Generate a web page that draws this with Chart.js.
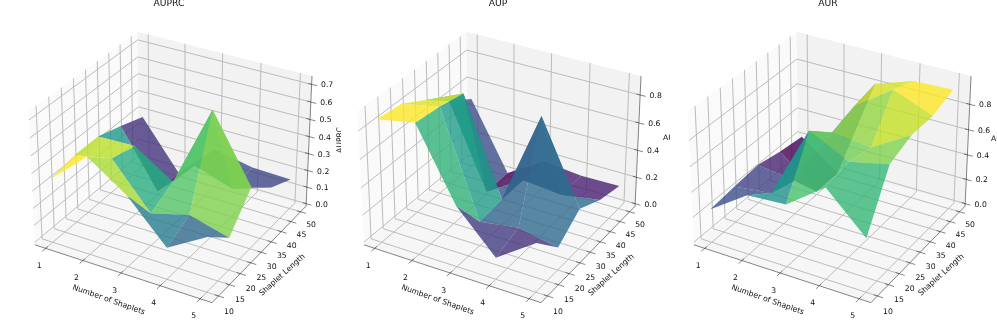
<!DOCTYPE html>
<html>
<head>
<meta charset="utf-8">
<title>Shapelet surfaces</title>
<script src="https://cdn.jsdelivr.net/npm/chart.js@4/dist/chart.umd.min.js"></script>
<style>
  html, body { margin: 0; padding: 0; background: #fff; }
  canvas { position: absolute; top: 0; }
</style>
</head>
<body>
<canvas id="c0" width="341" height="332" style="left:0"></canvas>
<canvas id="c1" width="329" height="332" style="left:341px"></canvas>
<canvas id="c2" width="327" height="332" style="left:670px"></canvas>
<script>
// axes
var numShapelets = [1, 2, 3, 4, 5];
var shapeletLengths = [10, 20, 30, 40, 50];
var lengthTicks = [10, 15, 20, 25, 30, 35, 40, 45, 50];

// one row per shapelet length, one column per number of shapelets
var auprcValues = [
  [0.354, 0.546, 0.395, 0.168, 0.300],
  [0.381, 0.425, 0.176, 0.234, 0.172],
  [0.381, 0.388, 0.242, 0.716, 0.344],
  [0.337, 0.005, 0.227, 0.154, 0.227],
  [0.285, 0.005, 0.212, 0.168, 0.161]
];
var aupValues = [
  [0.864, 0.915, 0.421, 0.137, 0.333],
  [0.842, 0.897, 0.156, 0.201, 0.146],
  [0.741, 0.860, 0.174, 0.851, 0.275],
  [0.604, 0.005, 0.174, 0.146, 0.192],
  [0.494, 0.005, 0.174, 0.146, 0.151]
];
var aurValues = [
  [0.245, 0.449, 0.469, 0.689, 0.399],
  [0.269, 0.309, 0.878, 0.729, 0.798],
  [0.289, 0.250, 0.719, 0.689, 0.868],
  [0.250, 0.005, 0.778, 0.990, 0.868],
  [0.225, 0.005, 0.820, 0.918, 0.930]
];
var auprcTicks = [0, 0.1, 0.2, 0.3, 0.4, 0.5, 0.6, 0.7];
var aupTicks = [0, 0.2, 0.4, 0.6, 0.8];
var aurTicks = [0, 0.2, 0.4, 0.6, 0.8];

var panels = [
  {id: 'c0', title: 'AUPRC', z: auprcValues, zTicks: auprcTicks, zMax: 0.732, left: 0, offset: 0,
   zLabel: {x: 339.8, y: 140, rot: -Math.PI / 2}},
  {id: 'c1', title: 'AUP', z: aupValues, zTicks: aupTicks, zMax: 0.915, left: 341, offset: 329,
   zLabel: {x: 341.7, y: 138.5, rot: 0}},
  {id: 'c2', title: 'AUR', z: aurValues, zTicks: aurTicks, zMax: 0.998, left: 670, offset: 659,
   zLabel: {x: 340, y: 139, rot: 0}}
];

// same camera as a default 3d axes: elev 30, azim -60
var camU = [0.866, 0.5, 0];
var camV = [-0.25, 0.433, 0.866];
var camN = [0.433, -0.75, 0.5];
var camDist = 10;
var boxXY = 1.1428, boxZ = 0.857;
var viewScale = 1704, viewCx = 173, viewCy = 160.7;
var xLim = [0.8, 5.2], yLim = [8, 52];
var pad = 1 / 48;

var viridis = [[68,1,84],[72,36,117],[65,68,135],[53,95,141],[42,120,142],[33,145,140],
               [34,168,132],[68,191,112],[122,209,81],[189,223,38],[253,231,37]];

function viridisColor(t) {
  var f = Math.min(Math.max(t, 0), 1) * (viridis.length - 1);
  var i = Math.min(Math.floor(f), viridis.length - 2);
  var a = viridis[i], b = viridis[i + 1], k = f - i;
  return 'rgba(' + Math.round(a[0] + (b[0] - a[0]) * k) + ',' + Math.round(a[1] + (b[1] - a[1]) * k) + ',' +
    Math.round(a[2] + (b[2] - a[2]) * k) + ',0.8)';
}

function project(x, y, z, zMax) {
  var px = ((x - xLim[0]) / (xLim[1] - xLim[0]) - 0.5) * boxXY;
  var py = ((y - yLim[0]) / (yLim[1] - yLim[0]) - 0.5) * boxXY;
  var pz = (z / zMax - 0.5) * boxZ;
  var d = camDist - (camN[0] * px + camN[1] * py + camN[2] * pz);
  return {
    x: (camU[0] * px + camU[1] * py) / d,
    y: (camV[0] * px + camV[1] * py + camV[2] * pz) / d,
    d: d
  };
}

function lineSet(pts, color, width) {
  return {data: pts, showLine: true, pointRadius: 0, borderColor: color, borderWidth: width, fill: false};
}

function polySet(pts, color) {
  return {data: pts, showLine: true, pointRadius: 0, borderWidth: 0, borderColor: 'rgba(0,0,0,0)',
          backgroundColor: color, fill: 'shape'};
}

function buildDatasets(panel) {
  var zm = panel.zMax, list = [];
  var P = function (x, y, z) { return project(x, y, z, zm); };
  var dx = (xLim[1] - xLim[0]) * pad, dy = (yLim[1] - yLim[0]) * pad, dz = zm * pad;
  var x0 = xLim[0] - dx, x1 = xLim[1] + dx, y0 = yLim[0] - dy, y1 = yLim[1] + dy, z0 = -dz, z1 = zm + dz;

  // panes
  list.push(polySet([P(x0, y0, z0), P(x0, y1, z0), P(x0, y1, z1), P(x0, y0, z1)], '#fafafa'));
  list.push(polySet([P(x0, y1, z0), P(x1, y1, z0), P(x1, y1, z1), P(x0, y1, z1)], '#f2f2f2'));
  list.push(polySet([P(x0, y0, z0), P(x1, y0, z0), P(x1, y1, z0), P(x0, y1, z0)], '#f6f6f6'));

  // grid
  var gridColor = '#bcbcbc', gridWidth = 1;
  numShapelets.forEach(function (x) {
    list.push(lineSet([P(x, y0, z0), P(x, y1, z0), P(x, y1, z1)], gridColor, gridWidth));
  });
  lengthTicks.forEach(function (y) {
    list.push(lineSet([P(x1, y, z0), P(x0, y, z0), P(x0, y, z1)], gridColor, gridWidth));
  });
  panel.zTicks.forEach(function (z) {
    list.push(lineSet([P(x0, y0, z), P(x0, y1, z), P(x1, y1, z)], gridColor, gridWidth));
  });

  // axis lines and tick marks
  var axisColor = '#333', axisWidth = 0.6;
  list.push(lineSet([P(x0, y0, z0), P(x1, y0, z0)], axisColor, axisWidth));
  list.push(lineSet([P(x1, y0, z0), P(x1, y1, z0)], axisColor, axisWidth));
  list.push(lineSet([P(x1, y1, z0), P(x1, y1, z1)], axisColor, axisWidth));
  var outY = (y1 - y0) * 0.03, inY = (y1 - y0) * 0.02, outX = (x1 - x0) * 0.03, inX = (x1 - x0) * 0.02;
  numShapelets.forEach(function (x) {
    list.push(lineSet([P(x, y0 - outY, z0), P(x, y0 + inY, z0)], axisColor, axisWidth));
  });
  lengthTicks.forEach(function (y) {
    list.push(lineSet([P(x1 + outX, y, z0), P(x1 - inX, y, z0)], axisColor, axisWidth));
  });
  panel.zTicks.forEach(function (z) {
    list.push(lineSet([P(x1 + outX, y1, z), P(x1 - inX, y1, z)], axisColor, axisWidth));
  });

  // surface faces, coloured by mean height and sorted far to near
  var faces = [], lo = Infinity, hi = -Infinity;
  for (var j = 0; j < shapeletLengths.length - 1; j++) {
    for (var i = 0; i < numShapelets.length - 1; i++) {
      var zs = [panel.z[j][i], panel.z[j][i + 1], panel.z[j + 1][i + 1], panel.z[j + 1][i]];
      var pts = [
        P(numShapelets[i], shapeletLengths[j], zs[0]),
        P(numShapelets[i + 1], shapeletLengths[j], zs[1]),
        P(numShapelets[i + 1], shapeletLengths[j + 1], zs[2]),
        P(numShapelets[i], shapeletLengths[j + 1], zs[3])
      ];
      var avg = (zs[0] + zs[1] + zs[2] + zs[3]) / 4;
      var depth = (pts[0].d + pts[1].d + pts[2].d + pts[3].d) / 4;
      lo = Math.min(lo, avg);
      hi = Math.max(hi, avg);
      faces.push({pts: pts, avg: avg, depth: depth});
    }
  }
  faces.sort(function (a, b) { return b.depth - a.depth; });
  faces.forEach(function (f) {
    list.push(polySet(f.pts, viridisColor((f.avg - lo) / (hi - lo))));
  });

  // chart.js paints the first dataset last
  return list.reverse();
}

var textPlugin = {
  id: 'axisText',
  afterDraw: function (chart) {
    var panel = chart.options.plugins.axisText.panel;
    var ctx = chart.ctx, sx = chart.scales.x, sy = chart.scales.y, zm = panel.zMax;
    var shift = panel.offset - panel.left;
    var dx = (xLim[1] - xLim[0]) * pad, dy = (yLim[1] - yLim[0]) * pad;
    var x0y = yLim[0] - dy, x1x = xLim[1] + dx, y1y = yLim[1] + dy, z0 = -zm * pad;

    function label(text, x, y, size, rot) {
      ctx.save();
      ctx.translate(x, y);
      if (rot) ctx.rotate(rot);
      ctx.font = size + 'px "DejaVu Sans"';
      ctx.fillStyle = '#111';
      ctx.textAlign = 'center';
      ctx.textBaseline = 'middle';
      ctx.fillText(text, 0, 0);
      ctx.restore();
    }
    function at(x, y, z, ox, oy, text) {
      var p = project(x, y, z, zm);
      label(text, sx.getPixelForValue(p.x) + ox, sy.getPixelForValue(p.y) + oy, 7.7, 0);
    }

    numShapelets.forEach(function (x) { at(x, x0y, z0, -6.5, 17.7, String(x)); });
    lengthTicks.forEach(function (y) { at(x1x, y, z0, 10.5, 16 - (y - 10) / 40 * 2.5, String(y)); });
    panel.zTicks.forEach(function (z) { at(x1x, y1y, z, 15.5, 1, z.toFixed(1)); });

    label(panel.title, 169 + shift, 3.5, 9.2, 0);
    label('Number of Shaplets', 108.7 + shift, 300, 7.7, 19.5 * Math.PI / 180);
    label('Shaplet Length', 282.3 + shift, 275, 7.7, -42 * Math.PI / 180);
    label(panel.title, panel.zLabel.x + shift, panel.zLabel.y, 7.7, panel.zLabel.rot);
  }
};

panels.forEach(function (panel) {
  var canvas = document.getElementById(panel.id);
  var leftPx = panel.left - panel.offset;
  new Chart(canvas, {
    type: 'scatter',
    data: {datasets: buildDatasets(panel)},
    options: {
      responsive: false,
      animation: false,
      events: [],
      layout: {padding: 0},
      plugins: {legend: {display: false}, tooltip: {enabled: false}, axisText: {panel: panel}},
      scales: {
        x: {type: 'linear', display: false,
            min: (leftPx - viewCx) / viewScale,
            max: (leftPx + canvas.width - viewCx) / viewScale},
        y: {type: 'linear', display: false,
            min: (viewCy - canvas.height) / viewScale,
            max: viewCy / viewScale}
      }
    },
    plugins: [textPlugin]
  });
});
</script>
</body>
</html>
